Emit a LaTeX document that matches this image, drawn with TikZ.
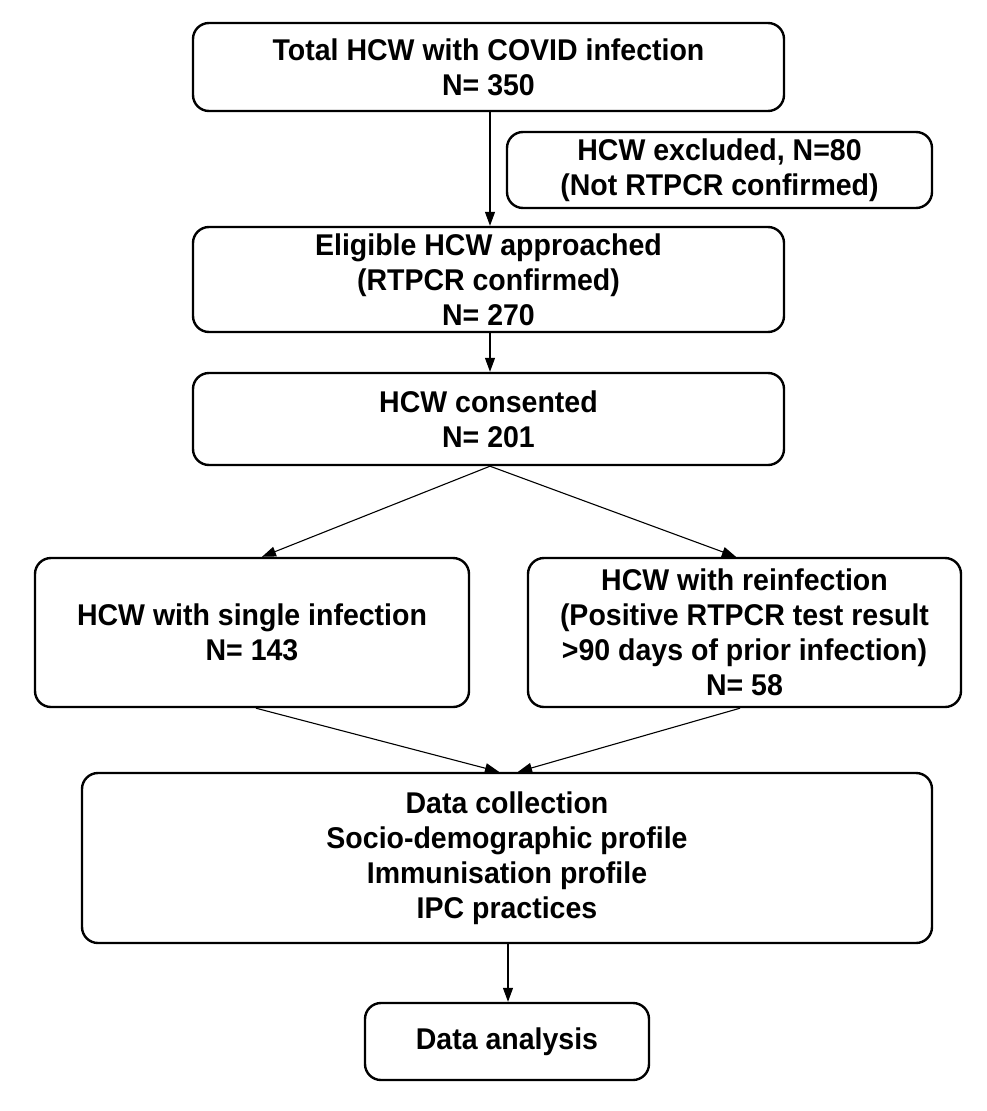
\documentclass[tikz,border=0pt]{standalone}
\usepackage{fontspec}
\setmainfont{Liberation Sans}[FakeStretch=0.95]
\usetikzlibrary{arrows.meta}
\begin{document}
\begin{tikzpicture}[x=1pt,y=-1pt,
  box/.style={draw=black,line width=2.4pt,rounded corners=16pt,align=center,
    font=\fontsize{30}{35}\selectfont\bfseries,inner sep=0pt},
  arr/.style={draw=black,line width=1.1pt,-{Triangle[length=14pt,width=10pt]}}]
\useasboundingbox[fill=white] (0,0) rectangle (986,1111);
\node[box,minimum width=591pt,minimum height=88pt] (b1) at (488.5,67) {Total HCW with COVID infection\\N= 350};
\node[box,minimum width=425pt,minimum height=76pt] (ex) at (719.5,170) {HCW excluded, N=80\\(Not RTPCR confirmed)};
\node[box,minimum width=591pt,minimum height=105pt] (b2) at (488.5,279.5) {Eligible HCW approached\\(RTPCR confirmed)\\N= 270};
\node[box,minimum width=591pt,minimum height=92pt] (b3) at (488.5,419) {HCW consented\\N= 201};
\node[box,minimum width=434pt,minimum height=149pt] (b4) at (252,632.5) {HCW with single infection\\N= 143};
\node[box,minimum width=433pt,minimum height=149pt] (b5) at (744.5,632.5) {HCW with reinfection\\(Positive RTPCR test result\\>90 days of prior infection)\\N= 58};
\node[box,minimum width=850pt,minimum height=170pt] (b6) at (507,858) {Data collection\\Socio-demographic profile\\Immunisation profile\\IPC practices};
\node[box,minimum width=284pt,minimum height=77pt] (b7) at (507,1041.5) {Data analysis};
\draw[arr] ([xshift=1.5pt]b1.south) -- ([xshift=1.5pt]b2.north);
\draw[arr] ([xshift=1.5pt]b2.south) -- ([xshift=1.5pt]b3.north);
\draw[arr] ([xshift=1.5pt]b3.south) -- ([xshift=10pt]b4.north);
\draw[arr] ([xshift=1.5pt]b3.south) -- ([xshift=-8.5pt]b5.north);
\draw[arr] ([xshift=4pt]b4.south) -- ([xshift=-8pt]b6.north);
\draw[arr] ([xshift=-4.5pt]b5.south) -- ([xshift=11pt]b6.north);
\draw[arr] ([xshift=1pt]b6.south) -- ([xshift=1pt]b7.north);
\end{tikzpicture}
\end{document}
